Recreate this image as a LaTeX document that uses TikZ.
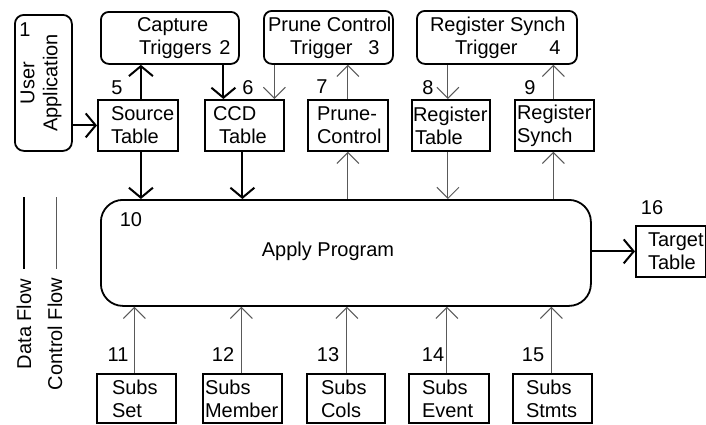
\documentclass[tikz,border=0pt]{standalone}
\usepackage{fontspec}
\setmainfont{Liberation Sans}
\usetikzlibrary{arrows.meta}
\tikzset{
  lbl/.style={font=\fontsize{20}{23}\selectfont, inner sep=0pt, outer sep=0pt},
  bx/.style={draw, line width=1.8pt, inner sep=0pt, anchor=north west},
  rbx/.style={bx, rounded corners=8pt},
  txt/.style={lbl, anchor=west, align=left},
  data/.style={line width=2pt, -{Straight Barb[length=10pt,width=24pt,line width=2pt]}},
  ctrl/.style={line width=1pt, black!65, -{Straight Barb[length=11pt,width=22pt,line width=1pt]}},
}
\begin{document}
\begin{tikzpicture}[x=1pt,y=-1pt]
\useasboundingbox (0,0) rectangle (706,424);
% boxes
\node[rbx, rounded corners=9pt, minimum width=57pt, minimum height=136pt] (ua) at (14,14) {};
\node[rbx, minimum width=138pt, minimum height=52pt] (cap) at (100,11) {};
\node[rbx, minimum width=129pt, minimum height=53pt] (pct) at (263,10) {};
\node[rbx, minimum width=160pt, minimum height=53pt] (rst) at (416,10) {};
\node[bx, minimum width=80pt, minimum height=51pt] (src) at (97,99) {};
\node[bx, minimum width=79pt, minimum height=51pt] (ccd) at (204,99) {};
\node[bx, minimum width=80pt, minimum height=51pt] (prc) at (307,99) {};
\node[bx, minimum width=78pt, minimum height=51pt] (rgt) at (411,99) {};
\node[bx, minimum width=79pt, minimum height=51pt] (rgs) at (514,99) {};
\node[bx, rounded corners=22pt, minimum width=490pt, minimum height=106pt] (app) at (100,199) {};
\node[bx, minimum width=70pt, minimum height=51pt] (tgt) at (635,225) {};
\node[bx, minimum width=79pt, minimum height=49pt] (s11) at (96,373) {};
\node[bx, minimum width=79pt, minimum height=49pt] (s12) at (202,373) {};
\node[bx, minimum width=78pt, minimum height=49pt] (s13) at (306,373) {};
\node[bx, minimum width=80pt, minimum height=49pt] (s14) at (408,373) {};
\node[bx, minimum width=79pt, minimum height=49pt] (s15) at (512,373) {};
% texts
\node[lbl, rotate=90, align=center] (tua) at (41,83) {User\\Application};
\node[txt] (tcap) at ([xshift=37pt]cap.west) {Capture\\\hspace*{2pt}Triggers};
\node[txt] (tpct) at ([xshift=5pt]pct.west) {Prune Control\\\hspace*{22pt}Trigger};
\node[txt] (trst) at ([xshift=14pt]rst.west) {Register Synch\\\hspace*{25pt}Trigger};
\node[txt] (tsrc) at ([xshift=14pt]src.west) {Source\\Table};
\node[txt] (tccd) at ([xshift=9pt]ccd.west) {CCD\\\hspace*{6pt}Table};
\node[txt] (tprc) at ([xshift=10pt]prc.west) {Prune-\\Control};
\node[txt] (trgt) at ([xshift=2pt]rgt.west) {Register\\\hspace*{2pt}Table};
\node[txt] (trgs) at ([xshift=3pt]rgs.west) {Register\\Synch};
\node[txt] (ttgt) at ([xshift=13pt]tgt.west) {Target\\Table};
\node[txt] (ts11) at ([xshift=16pt]s11.west) {Subs\\Set};
\node[txt] (ts12) at ([xshift=3pt]s12.west) {Subs\\Member};
\node[txt] (ts13) at ([xshift=15pt]s13.west) {Subs\\Cols};
\node[txt] (ts14) at ([xshift=14pt]s14.west) {Subs\\Event};
\node[txt] (ts15) at ([xshift=14pt]s15.west) {Subs\\Stmts};
\node[lbl] (tapp) at (328,251) {Apply Program};
% numbers
\node[lbl] (n1) at (25,30) {1};
\node[lbl] (n2) at (225,48) {2};
\node[lbl] (n3) at (374,48) {3};
\node[lbl] (n4) at (555,48) {4};
\node[lbl] (n5) at (117,88) {5};
\node[lbl] (n6) at (248,88) {6};
\node[lbl] (n7) at (322,87) {7};
\node[lbl] (n8) at (428,88) {8};
\node[lbl] (n9) at (530,88) {9};
\node[lbl] (n10) at (131,220) {10};
\node[lbl] (n16) at (652,208) {16};
\node[lbl] (n11) at (118,355) {11};
\node[lbl] (n12) at (223,355) {12};
\node[lbl] (n13) at (328,355) {13};
\node[lbl] (n14) at (433,355) {14};
\node[lbl] (n15) at (533,355) {15};
% legend
\node[lbl, rotate=90] (ldf) at (24,324) {Data Flow};
\node[lbl, rotate=90] (lcf) at (55,334) {Control Flow};
\coordinate (d1) at (24,197); \coordinate (d2) at (24,269);
\coordinate (c1) at (56,197); \coordinate (c2) at (56,269);
\draw[line width=2pt] (d1) -- (d2);
\draw[line width=1pt, black!65] (c1) -- (c2);
% data flow
\draw[data] (ua.east |- src.west) -- (src.west);
\draw[data] ([xshift=3pt]src.north) -- ([xshift=3pt]src.north |- cap.south);
\draw[data] ([xshift=-21pt]ccd.north |- cap.south) -- ([xshift=-21pt]ccd.north);
\draw[data] ([xshift=3pt]src.south) -- ([xshift=3pt]src.south |- app.north);
\draw[data] ([xshift=-2pt]ccd.south) -- ([xshift=-2pt]ccd.south |- app.north);
\draw[data] (app.east |- tgt.west) -- (tgt.west);
% control flow
\draw[ctrl] ([xshift=30pt]ccd.north |- pct.south) -- ([xshift=30pt]ccd.north);
\draw[ctrl] (prc.north) -- (prc.north |- pct.south);
\draw[ctrl] (prc.south |- app.north) -- (prc.south);
\draw[ctrl] ([xshift=-3pt]rgt.north |- rst.south) -- ([xshift=-3pt]rgt.north);
\draw[ctrl] ([xshift=-3pt]rgt.south) -- ([xshift=-3pt]rgt.south |- app.north);
\draw[ctrl] ([xshift=-1pt]rgs.south |- app.north) -- ([xshift=-1pt]rgs.south);
\draw[ctrl] ([xshift=-1pt]rgs.north) -- ([xshift=-1pt]rgs.north |- rst.south);
\draw[ctrl] ([xshift=-2pt]s11.north) -- ([xshift=-2pt]s11.north |- app.south);
\draw[ctrl] ([xshift=-1pt]s12.north) -- ([xshift=-1pt]s12.north |- app.south);
\draw[ctrl] ([xshift=1pt]s13.north) -- ([xshift=1pt]s13.north |- app.south);
\draw[ctrl] ([xshift=-2pt]s14.north) -- ([xshift=-2pt]s14.north |- app.south);
\draw[ctrl] ([xshift=-1pt]s15.north) -- ([xshift=-1pt]s15.north |- app.south);
\end{tikzpicture}
\end{document}
